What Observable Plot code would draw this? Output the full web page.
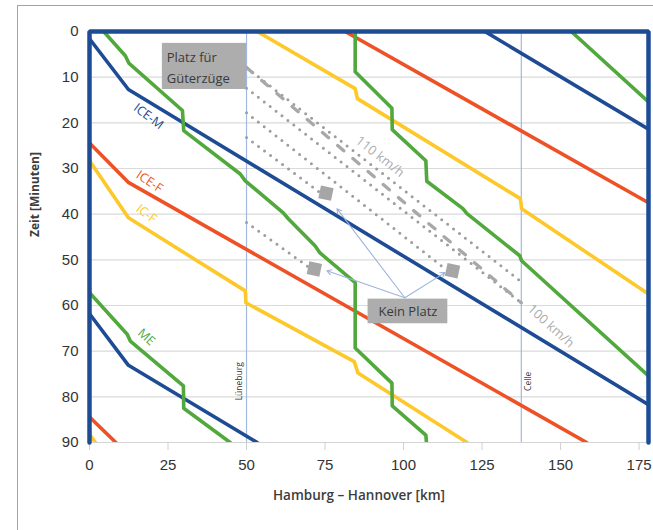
<!DOCTYPE html>
<html><head><meta charset="utf-8">
<script src="https://cdn.jsdelivr.net/npm/d3@7"></script>
<script src="https://cdn.jsdelivr.net/npm/@observablehq/plot@0.6"></script>
<style>
html,body{margin:0;padding:0;background:#fff;overflow:hidden;width:653px;height:530px;}
#chart{position:absolute;left:0;top:0;}
#frame{position:absolute;left:17px;top:5px;width:720px;height:620px;border-left:1.5px solid #a3a3a3;border-top:1.5px solid #a3a3a3;pointer-events:none;}
</style></head><body>
<div id="chart"></div><div id="frame"></div>
<script>
// ---- axes ----
const xTicks = [0, 25, 50, 75, 100, 125, 150, 175];
const yTicks = [0, 10, 20, 30, 40, 50, 60, 70, 80, 90];
const xTitle = "Hamburg – Hannover [km]";
const yTitle = "Zeit [Minuten]";

// ---- train paths [km, minute] ----
const iceM = [
  [[125.9, 0], [178, 21.4]],
  [[0, 1.6], [12.4, 12.7], [178, 81.7]],
  [[0, 61.8], [12.4, 73.1], [53.4, 90]]
];
const iceF = [
  [[81.4, 0], [178, 37.5]],
  [[0, 24.4], [12.5, 33.1], [158.3, 90]],
  [[0, 84.4], [8.4, 90]]
];
const icF = [
  [[53.4, 0], [84.6, 12.5], [85.3, 14.7], [137.2, 36.6], [137.6, 38.8], [178, 57.5]],
  [[0, 28.3], [12.4, 40.8], [49.6, 56.8], [49.8, 59.4], [84.3, 72.3], [85.5, 74.8], [120.2, 90]],
  [[0, 88.2], [1.9, 90]]
];
const me = [
  [[153.4, 0], [178, 15.4]],
  [[84.6, 0], [84.6, 8.8], [96.3, 16.8], [96.4, 21.5], [107.1, 28.3], [107.4, 32.8], [118.9, 38.8], [120.2, 39.9], [137, 49.1], [137.6, 50.2], [178, 75.4]],
  [[4.5, 0], [11.4, 5.3], [12.6, 7.0], [29.6, 17.3], [30, 21.7], [48, 31.2], [49.6, 32.7], [61.7, 39.7], [63.3, 41], [71.8, 46.9], [73.4, 48.5], [84.6, 55], [84.6, 69.3], [96.3, 77], [96.4, 82], [107.1, 88.4], [107.3, 90]],
  [[0, 57.2], [12, 66.3], [13, 67.8], [29.9, 77.6], [30, 82.5], [44.8, 90]]
];
const outline = [[0, 90], [0, 0], [178, 0], [178, 90]];

// freight paths
const freight110 = [
  [[50, 7.9], [137.5, 54.8]],
  [[50, 12.4], [137.5, 59.4]],
  [[50, 17.8], [113.3, 52]],
  [[50, 23.2], [73.5, 35.3]],
  [[50, 41.8], [70, 51.7]]
];
const freight100 = [[[50, 7.9], [137.5, 59.4]]];
const conflicts = [[75.3, 35.4], [71.6, 52.0], [115.6, 52.4]];
const arrowFrom = [100.4, 58.3];
const arrowTo = [[78.8, 38.8], [75.6, 52.4], [113.2, 52.8]];

// stations
const stationNames = ["Lüneburg", "Celle"];
const stationKm = [50, 137.5];
const stationLabelMin = 76.6;
const stationLabelSide = [-1, 1];

// annotations
const boxPlatz = {x1: 23.2, x2: 50, y1: 2.6, y2: 12.7, text: "Platz für\nGüterzüge", tx: 24.6, ty: 7.6};
const boxKein = {x1: 88.7, x2: 114.1, y1: 58.6, y2: 64.0, text: "Kein Platz", tx: 101.4, ty: 61.4};
const speedLabels = [
  {text: "110 km/h", km: 92.5, min: 27.4, rot: 38},
  {text: "100 km/h", km: 146.9, min: 64.5, rot: 42}
];
const seriesNames = ["ICE-M", "ICE-F", "IC-F", "ME"];
const seriesLabelPos = [[18.8, 18.6, 37], [19.1, 32.9, 34], [18.1, 39.9, 38], [18.1, 66.9, 42]];

const BLUE = "#1d4c95", RED = "#ef5126", YELLOW = "#fcc82a", GREEN = "#51a83c";
const seriesColors = [BLUE, RED, YELLOW, GREEN];
const STATION = "#a3b9e0", GRID = "#dadada", FREIGHT = "#9d9d9d";

const rows = (trains) => trains.flatMap((pts, i) => pts.map(([km, min]) => ({train: i, km, min})));
const FONT = "Liberation Sans, Arial, sans-serif";
const AFONT = "Open Sans, Lato, sans-serif";

const marks = [
  Plot.gridY(yTicks.filter(t => t > 0 && t < 90), {y: d => d, stroke: GRID, strokeOpacity: 1, strokeWidth: 1.2}),
  Plot.ruleY([90], {stroke: "#d4d4d4", strokeWidth: 1.2}),
  Plot.ruleX(stationKm, {stroke: STATION, strokeWidth: 1.2}),
  Plot.axisX({ticks: xTicks, tickSize: 8, tickPadding: 9, stroke: "#d0d0d0", fill: "#333", fontSize: 15, fontFamily: FONT, label: null}),
  Plot.axisY({ticks: yTicks, tickSize: 0, tickPadding: 11, fill: "#333", fontSize: 15, fontFamily: FONT, label: null}),
  Plot.text([xTitle], {frameAnchor: "bottom", dx: -10, dy: 57, fontSize: 13.5, fontFamily: AFONT, fontWeight: 600, fill: "#3c3c3c"}),
  Plot.text([yTitle], {frameAnchor: "left", dx: -54, rotate: -90, fontSize: 12, fontFamily: AFONT, fontWeight: 700, fill: "#3c3c3c"})
];
stationNames.forEach((n, i) => {
  marks.push(Plot.text([n], {x: () => stationKm[i], y: () => stationLabelMin, text: d => d, dx: stationLabelSide[i] * 7, rotate: -90, fontSize: 8.5, fontFamily: AFONT, fill: "#333"}));
});
marks.push(
  Plot.line(rows(freight110), {x: "km", y: "min", z: "train", stroke: FREIGHT, strokeWidth: 3, strokeDasharray: "0 7.5", strokeLinecap: "round"}),
  Plot.line(rows(freight100), {x: "km", y: "min", z: "train", stroke: "#a8a8a8", strokeWidth: 3.3, strokeDasharray: "8 12"})
);
[iceM, iceF, icF, me].forEach((s, k) => {
  marks.push(Plot.line(rows(s), {x: "km", y: "min", z: "train", stroke: seriesColors[k], strokeWidth: 3.6, strokeLinejoin: "round", clip: true}));
});
marks.push(
  Plot.line(outline, {x: d => d[0], y: d => d[1], stroke: BLUE, strokeWidth: 4.5, strokeLinejoin: "miter"}),
  Plot.rect([boxPlatz, boxKein], {x1: "x1", x2: "x2", y1: "y1", y2: "y2", fill: "#adadad"}),
  Plot.text([boxPlatz], {x: "tx", y: "ty", text: "text", textAnchor: "start", lineHeight: 1.6, fontSize: 13, fontFamily: AFONT, fill: "#3a3a3a"}),
  Plot.text([boxKein], {x: "tx", y: "ty", text: "text", fontSize: 13, fontFamily: AFONT, fill: "#3a3a3a"}),
  Plot.arrow(arrowTo, {x1: () => arrowFrom[0], y1: () => arrowFrom[1], x2: d => d[0], y2: d => d[1], stroke: "#9fb4dc", strokeWidth: 1.1, headLength: 7}),
  Plot.dot(conflicts, {x: d => d[0], y: d => d[1], symbol: "square", r: 7.3, fill: "#a6a6a6", rotate: 12})
);
speedLabels.forEach(s => marks.push(Plot.text([s], {x: "km", y: "min", text: "text", rotate: s.rot, fontSize: 13, fontFamily: AFONT, fill: "#adadad"})));
seriesNames.forEach((n, k) => {
  const [km, min, rot] = seriesLabelPos[k];
  marks.push(Plot.text([n], {x: () => km, y: () => min, text: d => d, rotate: rot, fontSize: 12.5, fontFamily: AFONT, fill: seriesColors[k]}));
});

const chart = Plot.plot({
  width: 653, height: 530,
  marginLeft: 89, marginRight: 5, marginTop: 31, marginBottom: 88,
  x: {domain: [0, 178]},
  y: {domain: [0, 90], reverse: true},
  style: {background: "transparent", fontFamily: FONT},
  marks
});
document.getElementById("chart").appendChild(chart);
</script></body></html>
